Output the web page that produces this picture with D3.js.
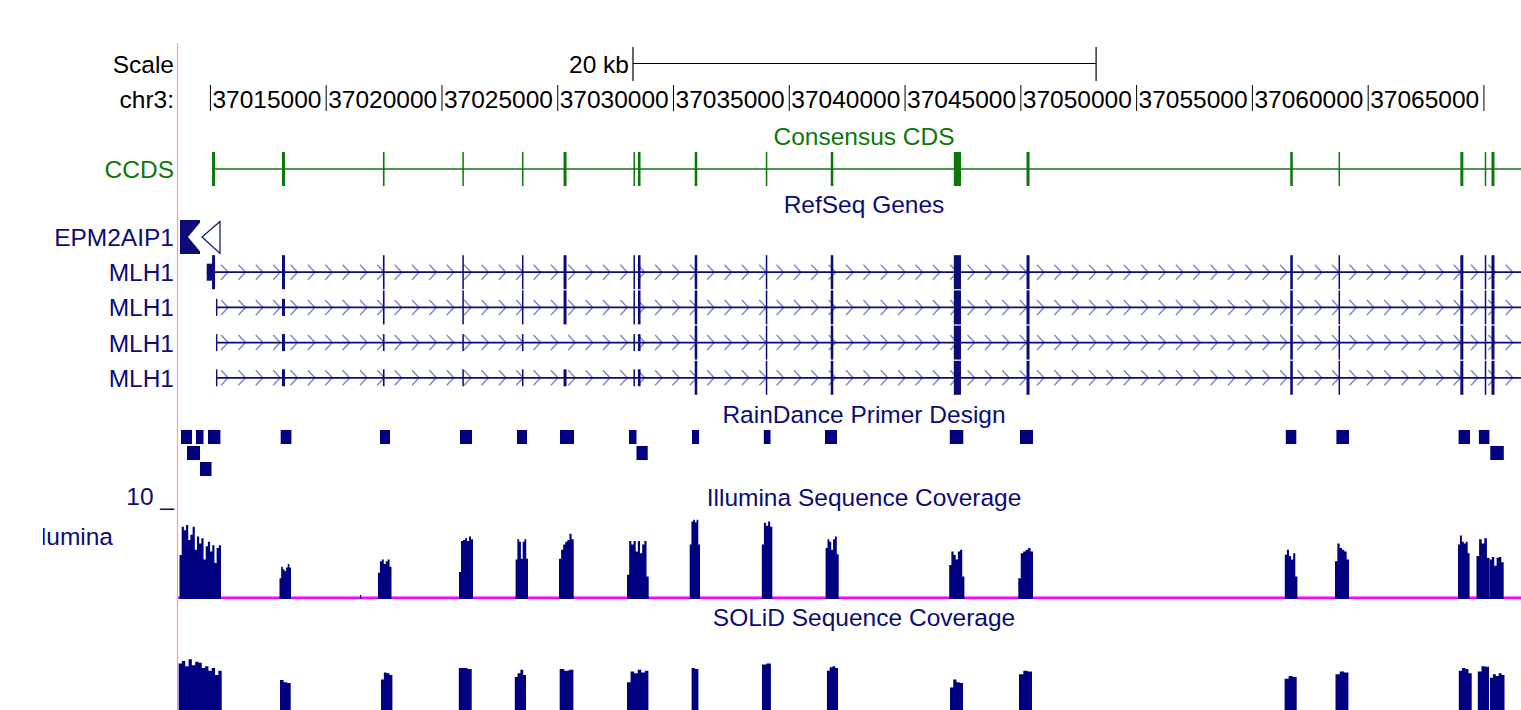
<!DOCTYPE html>
<meta charset="utf-8">
<script src="https://d3js.org/d3.v7.min.js"></script>
<style>
  body { margin: 0; background: #fff; }
  text { font-family: "Liberation Sans", Arial, sans-serif; font-size: 24.5px; }
</style>
<div id="browser"></div>
<script>

// ---- window / ruler ----
var viewStart = 37013600, viewEnd = 37071600;
var chromName = "chr3:";
var rulerTicks = [37015000, 37020000, 37025000, 37030000, 37035000, 37040000,
                  37045000, 37050000, 37055000, 37060000, 37065000, 37070000];
var rulerLabels = ["37015000", "37020000", "37025000", "37030000", "37035000", "37040000",
                   "37045000", "37050000", "37055000", "37060000", "37065000"];
var scaleBar = [37033250, 37053250];
var scaleBarLabel = "20 kb";

var trackTitles = ["Consensus CDS", "RefSeq Genes", "RainDance Primer Design",
                   "Illumina Sequence Coverage", "SOLiD Sequence Coverage"];

// ---- CCDS exons (bp) ----
var ccdsExons = [
  [37015070, 37015200], [37018090, 37018220], [37022450, 37022520], [37025880, 37025945],
  [37028455, 37028520], [37030250, 37030380], [37033270, 37033335], [37033465, 37033575],
  [37035915, 37036025], [37038985, 37039050], [37041790, 37041900], [37047105, 37047415],
  [37050245, 37050375], [37061635, 37061745], [37063720, 37063785], [37068980, 37069110],
  [37070035, 37070100], [37070325, 37070455]
];
var geneEnd = 37092000; // runs past the right edge

// ---- RefSeq genes ----
var refseqNames = ["EPM2AIP1", "MLH1", "MLH1", "MLH1", "MLH1"];
var epm2aip1Exon = [37013686, 37014550];
var mlh1FirstExons = [[37014840, 37015200], [37015240, 37015300], [37015240, 37015300], [37015240, 37015300]];
var mlh1CdsStarts = [37015070, 37022450, 37035915, 37035915];
var mlh1SkippedExon = [null, null, 37030250, null];

// ---- RainDance primers: [start, end, row] ----
var primers = [
  [37013730, 37014205, 0], [37014377, 37014701, 0], [37014896, 37015431, 0],
  [37018035, 37018497, 0], [37022324, 37022756, 0], [37025779, 37026297, 0],
  [37028240, 37028672, 0], [37030097, 37030702, 0], [37033077, 37033401, 0],
  [37035798, 37036100, 0], [37038899, 37039188, 0], [37041542, 37042060, 0],
  [37046932, 37047515, 0], [37049963, 37050525, 0], [37061443, 37061896, 0],
  [37063628, 37064172, 0], [37068905, 37069397, 0], [37069782, 37070235, 0],
  [37013989, 37014550, 1], [37033401, 37033885, 1], [37070274, 37070857, 1],
  [37014550, 37015047, 2]
];

// ---- coverage: [start, end, values across the block] ----
var coverageMax = 10;
var illumina = [
  [37013665, 37015457, [4.8, 8.0, 7.6, 8.2, 6.5, 7.1, 8.0, 5.4, 6.9, 6.1, 6.7, 4.3, 5.8, 6.3, 5.2, 5.9, 3.9, 5.6, 5.9]],
  [37017983, 37018480, [2.2, 3.5, 3.2, 3.0, 3.4, 3.8, 3.4]],
  [37021460, 37021512, [0.3]],
  [37022237, 37022820, [2.8, 4.1, 4.3, 3.8, 4.1, 4.3, 3.5]],
  [37025736, 37026340, [2.9, 6.4, 6.5, 6.7, 6.4, 6.9, 6.6]],
  [37028180, 37028715, [4.3, 6.6, 6.3, 4.4, 6.3, 6.6, 4.4]],
  [37030054, 37030689, [4.4, 5.4, 6.0, 6.3, 6.5, 7.2, 6.6]],
  [37032991, 37033928, [2.6, 6.4, 6.0, 6.4, 5.2, 6.4, 5.0, 6.0, 6.4, 2.4]],
  [37035699, 37036144, [6.0, 8.6, 8.8, 8.5, 8.8, 6.0]],
  [37038813, 37039266, [6.0, 8.45, 8.1, 8.6, 8.0]],
  [37041568, 37042133, [5.6, 6.6, 6.3, 5.4, 6.6, 6.9, 4.9]],
  [37046906, 37047562, [3.7, 5.2, 4.8, 4.3, 5.2, 5.4, 2.4]],
  [37049890, 37050525, [2.2, 5.0, 5.2, 5.4, 5.6, 5.2]],
  [37061399, 37061943, [4.85, 5.4, 4.7, 4.3, 5.0, 2.4]],
  [37063567, 37064172, [4.1, 6.1, 5.6, 5.4, 5.2, 4.3]],
  [37068879, 37069380, [6.0, 7.0, 6.3, 6.1, 6.3, 5.0]],
  [37069678, 37070240, [4.7, 6.6, 6.1, 6.7, 4.5]],
  [37070240, 37070852, [4.3, 4.6, 3.6, 4.5, 4.6, 4.0]]
];
var solid = [
  [37013626, 37015487, [6.1, 6.4, 5.8, 6.6, 5.9, 6.3, 6.2, 5.6, 5.8, 5.3, 5.6, 4.8, 5.3]],
  [37018005, 37018467, [4.25, 4.0, 3.9]],
  [37022367, 37022859, [4.3, 5.1, 5.0, 4.8]],
  [37025727, 37026284, [5.6, 5.6, 5.5]],
  [37028145, 37028629, [4.6, 5.0, 5.4, 4.8]],
  [37030084, 37030676, [5.5, 5.3, 5.4]],
  [37032991, 37033915, [4.0, 5.2, 5.0, 5.4, 5.1, 5.3]],
  [37035781, 37036074, [5.6, 5.5]],
  [37038821, 37039205, [6.0, 6.1]],
  [37041624, 37042103, [5.3, 5.7, 5.8, 5.6]],
  [37046940, 37047502, [3.4, 4.3, 4.0, 3.9]],
  [37049920, 37050482, [4.9, 5.3, 5.2]],
  [37061391, 37061913, [4.4, 4.7, 4.6]],
  [37063589, 37064146, [4.9, 5.2, 5.1]],
  [37068914, 37069471, [5.3, 5.6, 5.5, 5.0]],
  [37069734, 37070218, [5.2, 5.8, 5.75]],
  [37070261, 37070888, [4.5, 4.9, 4.7, 5.0, 4.8]]
];

// ---- colours ----
var navy = "#0c0c78", green = "#0c780c", bars = "#000080", chevron = "#8282cc";

var width = 1521, height = 710;
var left = 178, labelX = 174, centerX = 864;

var svg = d3.select('#browser')
  .append('svg')
    .attr('width', width)
    .attr('height', height);

svg.append('rect').attr('width', width).attr('height', height).attr('fill', '#fff');

var x = d3.scaleLinear().domain([viewStart, viewEnd]).range([left, width]);

svg.append('clipPath').attr('id', 'data-area')
  .append('rect').attr('x', left).attr('y', 0).attr('width', width - left).attr('height', height);
svg.append('clipPath').attr('id', 'label-area')
  .append('rect').attr('x', 43).attr('y', 0).attr('width', left - 43).attr('height', height);

var plot = svg.append('g').attr('clip-path', 'url(#data-area)');

function leftLabel(txt, y, color) {
  return svg.append('text').attr('x', labelX).attr('y', y)
    .attr('text-anchor', 'end').attr('fill', color).text(txt);
}
function title(i, y, color) {
  svg.append('text').attr('x', centerX).attr('y', y)
    .attr('text-anchor', 'middle').attr('fill', color).text(trackTitles[i]);
}

// Scale bar
leftLabel("Scale", 73, '#000');
svg.append('text').attr('x', x(scaleBar[0]) - 4).attr('y', 73)
  .attr('text-anchor', 'end').text(scaleBarLabel);
svg.append('line')
  .attr('x1', x(scaleBar[0])).attr('x2', x(scaleBar[1]))
  .attr('y1', 63.5).attr('y2', 63.5).attr('stroke', '#000').attr('stroke-width', 1.2);
svg.selectAll('.sbend').data(scaleBar).enter().append('line')
  .attr('x1', function(d) { return x(d); }).attr('x2', function(d) { return x(d); })
  .attr('y1', 47).attr('y2', 81).attr('stroke', '#000').attr('stroke-width', 1.2);

// Ruler
leftLabel(chromName, 108, '#000');
svg.selectAll('.rtick').data(rulerTicks).enter().append('line')
  .attr('x1', function(d) { return x(d); }).attr('x2', function(d) { return x(d); })
  .attr('y1', 85).attr('y2', 111).attr('stroke', '#000').attr('stroke-width', 1);
svg.selectAll('.rlabel').data(rulerLabels).enter().append('text')
  .attr('x', function(d, i) { return x(rulerTicks[i]) + 2; })
  .attr('y', 108)
  .text(function(d) { return d; });

// CCDS
title(0, 145, green);
leftLabel("CCDS", 178, green);
var ccdsY = 169;
plot.append('line')
  .attr('x1', x(ccdsExons[0][0])).attr('x2', x(geneEnd))
  .attr('y1', ccdsY).attr('y2', ccdsY).attr('stroke', green).attr('stroke-width', 1.6);
plot.selectAll('.ccds').data(ccdsExons).enter().append('rect')
  .attr('x', function(d) { return x(d[0]); })
  .attr('width', function(d) { return Math.max(1.4, x(d[1]) - x(d[0])); })
  .attr('y', ccdsY - 17).attr('height', 34)
  .attr('fill', green);

// RefSeq genes
title(1, 213, navy);
var rowY = function(i) { return 237 + 35.2 * i; };
refseqNames.forEach(function(n, i) { leftLabel(n, rowY(i) + 9, navy); });

// EPM2AIP1 (minus strand, first exon at the left edge)
var ey = rowY(0), ex0 = x(epm2aip1Exon[0]), ex1 = x(epm2aip1Exon[1]);
plot.append('rect').attr('x', ex0).attr('y', ey - 17).attr('width', ex1 - ex0).attr('height', 34).attr('fill', navy);
plot.append('path')
  .attr('d', 'M' + (ex1 + 0.5) + ',' + (ey - 15) + 'L' + (ex1 - 12) + ',' + ey + 'L' + (ex1 + 0.5) + ',' + (ey + 15) + 'Z')
  .attr('fill', '#fff');
plot.append('path')
  .attr('d', 'M' + (ex1 + 20) + ',' + (ey - 15.5) + 'L' + (ex1 + 2) + ',' + ey + 'L' + (ex1 + 20) + ',' + (ey + 16.5) + 'Z')
  .attr('fill', 'none').attr('stroke', navy).attr('stroke-width', 1.2);

// MLH1 transcripts
mlh1CdsStarts.forEach(function(cds, r) {
  var cy = rowY(r + 1);
  var exons = [mlh1FirstExons[r]].concat(ccdsExons.slice(1))
    .filter(function(e) { return e[0] !== mlh1SkippedExon[r]; });
  var tx0 = x(exons[0][0]);
  var g = plot.append('g');

  // strand chevrons
  var chev = d3.range(228.1, width, 17.36).filter(function(c) { return c - 7 > tx0; });
  g.selectAll('.chev').data(chev).enter().append('path')
    .attr('d', function(c) { return 'M' + (c - 7) + ',' + (cy - 7.5) + 'L' + c + ',' + cy + 'L' + (c - 7) + ',' + (cy + 7.5); })
    .attr('fill', 'none').attr('stroke', chevron).attr('stroke-width', 1.4);

  g.append('line').attr('x1', tx0).attr('x2', x(geneEnd))
    .attr('y1', cy).attr('y2', cy).attr('stroke', navy).attr('stroke-width', 1.8);

  var parts = [];
  exons.forEach(function(e) {
    if (e[0] < cds) parts.push([e[0], Math.min(e[1], cds), 8.5]);
    if (e[1] > cds) parts.push([Math.max(e[0], cds), e[1], 17]);
  });
  g.selectAll('.ex').data(parts).enter().append('rect')
    .attr('x', function(d) { return x(d[0]); })
    .attr('width', function(d) { return Math.max(1.4, x(d[1]) - x(d[0])); })
    .attr('y', function(d) { return cy - d[2]; })
    .attr('height', function(d) { return 2 * d[2]; })
    .attr('fill', navy);
});

// RainDance primers
title(2, 423, navy);
plot.selectAll('.primer').data(primers).enter().append('rect')
  .attr('x', function(d) { return x(d[0]); })
  .attr('width', function(d) { return x(d[1]) - x(d[0]); })
  .attr('y', function(d) { return 430 + 16 * d[2]; })
  .attr('height', 14)
  .attr('fill', bars);

// Coverage tracks: one stepped area per covered block
function coverage(data, y, baseY) {
  var g = plot.append('g');
  g.append('line').attr('x1', left).attr('x2', width)
    .attr('y1', baseY - 1.3).attr('y2', baseY - 1.3)
    .attr('stroke', '#ff00ff').attr('stroke-width', 2.6);
  var area = d3.area()
    .curve(d3.curveStepAfter)
    .x(function(p) { return x(p[0]); })
    .y0(baseY)
    .y1(function(p) { return y(p[1]); });
  g.selectAll('.cov').data(data).enter().append('path')
    .attr('d', function(d) {
      var n = d[2].length, step = (d[1] - d[0]) / n;
      var pts = d[2].map(function(v, i) { return [d[0] + i * step, v]; });
      pts.push([d[1], d[2][n - 1]]);
      if (x(d[1]) - x(d[0]) < 1) pts[pts.length - 1][0] = x.invert(x(d[0]) + 1);
      return area(pts);
    })
    .attr('fill', bars);
}

title(3, 506, navy);
svg.append('text').attr('x', labelX).attr('y', 505).attr('text-anchor', 'end').attr('fill', navy).text("10 _");
svg.append('text').attr('x', 113).attr('y', 545).attr('text-anchor', 'end').attr('fill', navy)
  .attr('clip-path', 'url(#label-area)').text("Illumina");
var yIll = d3.scaleLinear().domain([0, coverageMax]).range([597.7, 509]);
coverage(illumina, yIll, 599);

title(4, 626, navy);
var ySolid = d3.scaleLinear().domain([0, coverageMax]).range([717.7, 629]);
coverage(solid, ySolid, 719);

// gutter line
svg.append('line').attr('x1', 177.5).attr('x2', 177.5).attr('y1', 43).attr('y2', height)
  .attr('stroke', '#f4a4a4').attr('stroke-width', 1.2);

</script>
